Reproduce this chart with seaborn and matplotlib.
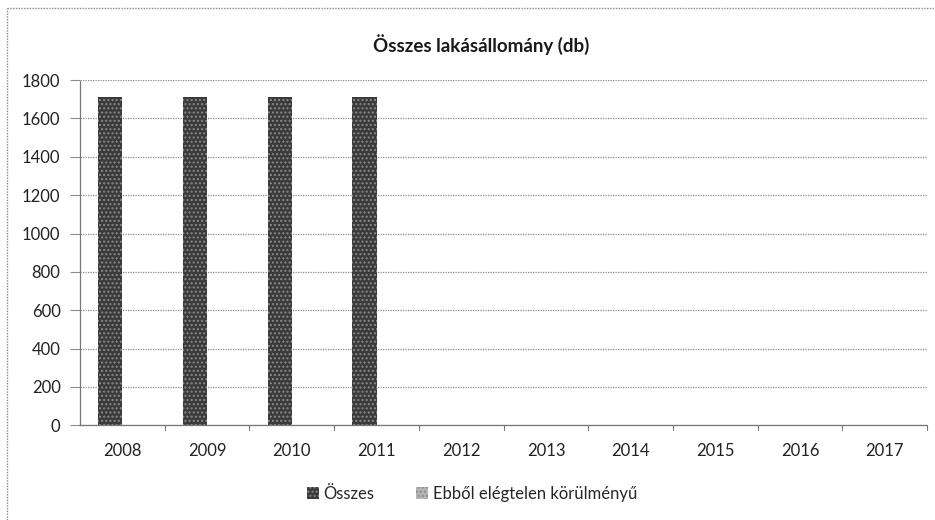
import numpy as np
import pandas as pd
import matplotlib
matplotlib.use('Agg')
import matplotlib.pyplot as plt
import seaborn as sns
from matplotlib.patches import Patch
from matplotlib.lines import Line2D

years = ['2008', '2009', '2010', '2011', '2012', '2013', '2014', '2015', '2016', '2017']
osszes = [1710, 1710, 1710, 1710, np.nan, np.nan, np.nan, np.nan, np.nan, np.nan]
ebbol = [np.nan] * 10
series = ['Összes', 'Ebből elégtelen körülményű']
y_ticks = [0, 200, 400, 600, 800, 1000, 1200, 1400, 1600, 1800]

df = pd.DataFrame({'ev': years * 2,
                   'sorozat': [series[0]] * 10 + [series[1]] * 10,
                   'db': osszes + ebbol})

sns.set_theme(style='white')
plt.rcParams['font.family'] = ['Lato', 'DejaVu Sans']

fig = plt.figure(figsize=(9.35, 5.2), dpi=100)
ax = fig.add_axes([0.0856, 0.182, 0.906, 0.664])

colors = {series[0]: '#3a3a3a', series[1]: '#b5b5b5'}
sns.barplot(data=df, x='ev', y='db', hue='sorozat', order=years, hue_order=series,
            palette=colors, width=0.57, ax=ax, legend=False, saturation=1)
for bar in ax.patches:
    bar.set_hatch('....')
    bar.set_edgecolor('#8a8a8a')
    bar.set_linewidth(0)

ax.set_ylim(0, 1800)
ax.set_yticks(y_ticks)
ax.set_xlim(-0.5, 9.5)
ax.yaxis.grid(True, linestyle=(0, (1, 1)), color='#8c8c8c', linewidth=0.9)
ax.set_axisbelow(True)
ax.set_xlabel('')
ax.set_ylabel('')
for side in ['top', 'right']:
    ax.spines[side].set_visible(False)
for side in ['left', 'bottom']:
    ax.spines[side].set_linestyle((0, (1, 1)))
    ax.spines[side].set_color('#777777')
    ax.spines[side].set_linewidth(0.9)
ax.tick_params(axis='y', labelsize=12, length=7, width=0.8, color='#8c8c8c', pad=7,
               labelcolor='#222222', left=True)
ax.tick_params(axis='x', labelsize=12, length=0, pad=13, labelcolor='#222222')

# category separator ticks under the axis
for i in range(1, 11):
    ax.plot([i - 0.5, i - 0.5], [0, -25], color='#777777', linewidth=0.8, clip_on=False)

fig.text(0.515, 0.915, 'Összes lakásállomány (db)', ha='center', va='center',
         fontsize=13.5, fontweight='bold', color='#1a1a1a')

handles = [Patch(facecolor=colors[s], hatch='....', edgecolor='#8a8a8a', linewidth=0) for s in series]
fig.legend(handles, series, loc='center', bbox_to_anchor=(0.505, 0.05), ncol=2, frameon=False,
           fontsize=12, handlelength=0.7, handleheight=0.7, handletextpad=0.3, columnspacing=2.5)

# chart frame
fig.add_artist(Line2D([7 / 935, 7 / 935], [0, 1 - 8 / 520], color='#888888', linewidth=1,
                      linestyle=(0, (1, 1)), transform=fig.transFigure))
fig.add_artist(Line2D([7 / 935, 1], [1 - 8 / 520, 1 - 8 / 520], color='#888888', linewidth=1,
                      linestyle=(0, (1, 1)), transform=fig.transFigure))

fig.savefig('out.png', dpi=100)
